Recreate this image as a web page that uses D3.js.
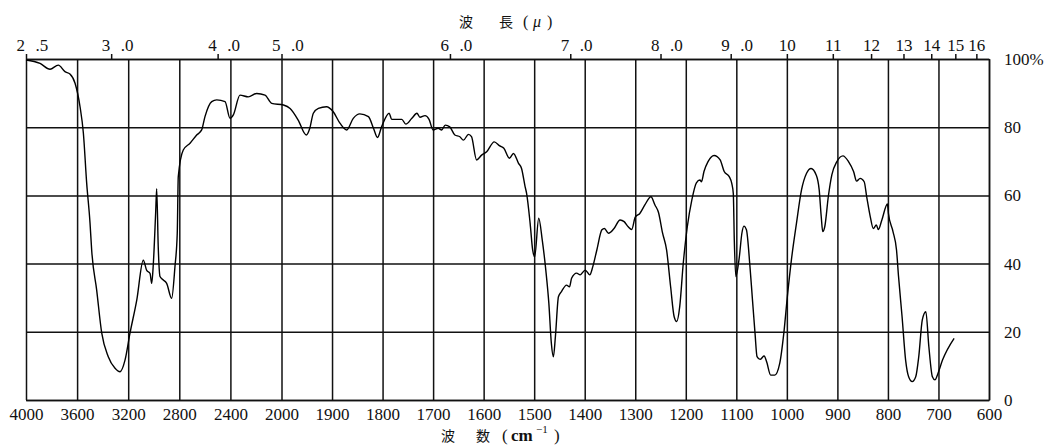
<!DOCTYPE html>
<html>
<head>
<meta charset="utf-8">
<script src="https://cdn.jsdelivr.net/npm/d3@7"></script>
<style>
  body { margin: 0; background: #fff; }
  svg { display: block; }
</style>
</head>
<body>
<div id="fig_ir"></div>
<script>
// tick values and labels
var wavenumberTicks = [4000, 3600, 3200, 2800, 2400, 2000, 1900, 1800, 1700, 1600, 1500, 1400, 1300, 1200, 1100, 1000, 900, 800, 700, 600];
var wavelengthTicks = [2.5, 3, 4, 5, 6, 7, 8, 9, 10, 11, 12, 13, 14, 15, 16];
var wavelengthLabels = ["2 .5", "3 .0", "4 .0", "5 .0", "6 .0", "7 .0", "8 .0", "9 .0", "10", "11", "12", "13", "14", "15", "16"];
var transmittanceTicks = [0, 20, 40, 60, 80, 100];

// spectrum (cm-1, %T)
var wavenumber = [4000, 3890, 3812, 3747, 3695, 3656, 3616, 3577, 3551, 3525, 3499, 3486, 3447, 3407, 3356, 3303, 3264, 3225, 3186, 3133,
  3082, 3055, 3029, 3016, 3003, 2985, 2977, 2965, 2951, 2925, 2899, 2860, 2834, 2816, 2808, 2769, 2716, 2664, 2625, 2599,
  2546, 2507, 2442, 2403, 2377, 2325, 2260, 2194, 2129, 2077, 1996, 1983, 1967, 1951, 1944, 1937, 1927, 1911, 1898, 1884,
  1871, 1858, 1845, 1828, 1818, 1810, 1802, 1787, 1782, 1772, 1762, 1754, 1742, 1732, 1726, 1716, 1708, 1700, 1690, 1683,
  1676, 1667, 1657, 1647, 1640, 1630, 1624, 1614, 1604, 1594, 1579, 1568, 1560, 1549, 1541, 1531, 1525, 1518, 1515, 1508,
  1503, 1499, 1491, 1484, 1477, 1471, 1466, 1462, 1458, 1452, 1446, 1436, 1430, 1426, 1416, 1409, 1399, 1390, 1384, 1376,
  1366, 1361, 1353, 1342, 1330, 1322, 1314, 1307, 1300, 1291, 1281, 1269, 1261, 1254, 1246, 1238, 1230, 1223, 1218, 1212,
  1205, 1197, 1188, 1179, 1172, 1169, 1164, 1156, 1144, 1132, 1124, 1114, 1109, 1106, 1104, 1101, 1094, 1089, 1085, 1080,
  1073, 1068, 1063, 1059, 1053, 1045, 1040, 1032, 1024, 1014, 1006, 999, 991, 981, 971, 961, 952, 942, 936, 932,
  929, 925, 918, 911, 901, 889, 878, 868, 862, 855, 847, 842, 835, 829, 823, 819, 812, 801, 799, 790,
  783, 779, 772, 765, 759, 752, 745, 739, 732, 725, 719, 712, 707, 701, 692, 669];
var transmittance = [99.7, 98.7, 97, 98.2, 96.3, 95.6, 92.9, 86, 78.3, 63.6, 52, 44, 32.3, 19.6, 12.7, 9.3, 8.3, 11.7, 19.6, 29.3,
  41, 38, 37.1, 34.2, 40.1, 55, 62, 45, 36.2, 35.2, 34.2, 29.8, 39.1, 48.9, 65.5, 73.3, 75.3, 77.7, 79.2, 83.1,
  87.5, 88, 87.5, 82.6, 83.6, 89.4, 88.9, 89.9, 89.4, 87, 86.5, 85.5, 82.1, 77.7, 79.7, 84.1, 85.5, 86, 84.6, 81.1,
  79.2, 82.6, 83.9, 83.1, 79.7, 77, 80.1, 84.1, 82.3, 82.3, 82.3, 80.9, 82.6, 84.1, 82.9, 83.4, 82.3, 79.2, 79.7, 79.2,
  80.6, 80.1, 77.7, 77.2, 76.2, 77.9, 77.2, 70.4, 71.8, 72.8, 75.7, 74.5, 73.8, 70.9, 72.3, 69.4, 67.9, 62.6, 60.6, 51.8,
  44, 42, 53.3, 46.9, 38.1, 28.4, 16.6, 12.7, 18.6, 30.3, 31.8, 33.7, 33.2, 35.7, 37.2, 36.7, 38.1, 36.7, 39.1, 44,
  49.9, 50.3, 48.9, 50.3, 52.8, 52.3, 50.8, 50, 53.6, 54.7, 57.2, 59.6, 57.2, 55, 49, 44, 33.2, 24.4, 23, 27.4,
  40.1, 50.8, 58.7, 63.7, 64.5, 64, 67, 69.9, 71.7, 70.4, 67, 65.5, 63.5, 60.6, 46.9, 36.2, 42, 48.9, 51, 49.9,
  39.1, 29.3, 19.6, 12.7, 11.9, 12.9, 11.2, 7.3, 7.3, 10.8, 19.6, 30.3, 41.1, 51.8, 61.6, 66.5, 67.9, 66, 61.6, 53.8,
  49.4, 50.8, 59.6, 66, 69.9, 71.6, 69.9, 67, 64.2, 65, 64, 59.6, 53.8, 50.3, 51.3, 50, 52.8, 57.5, 54.7, 49.4,
  44, 36.2, 24.4, 11.7, 6.8, 5.4, 6.8, 12.7, 23.5, 25.9, 15.6, 6.8, 5.9, 7.8, 11.7, 18.1];

var width = 1053, height = 445;
var plotLeft = 26, plotRight = 989, plotTop = 59, plotBottom = 400;
var serif = "'Liberation Serif', 'DejaVu Serif', serif";
var cjk = "'Noto Sans CJK JP', 'Noto Sans CJK SC', sans-serif";
var ink = "#111";

var svg = d3.select("#fig_ir")
  .append("svg")
  .attr("width", width)
  .attr("height", height);

// the chart paper has two linear sections: 4000-2000 squeezed, 2000-600 wide
var x = d3.scaleLinear()
  .domain([4000, 2000, 600])
  .range([plotLeft, 281.5, plotRight]);

var y = d3.scaleLinear()
  .domain([0, 100])
  .range([plotBottom, plotTop]);

// vertical grid + bottom labels
var xAxis = svg.append("g")
  .attr("transform", "translate(0," + plotBottom + ")")
  .call(d3.axisBottom(x)
    .tickValues(wavenumberTicks)
    .tickSize(-(plotBottom - plotTop))
    .tickSizeOuter(0)
    .tickPadding(8)
    .tickFormat(d3.format("d")));

// horizontal grid + right labels
var yAxis = svg.append("g")
  .attr("transform", "translate(" + plotRight + ",0)")
  .call(d3.axisRight(y)
    .tickValues(transmittanceTicks)
    .tickSize(-(plotRight - plotLeft))
    .tickSizeOuter(0)
    .tickPadding(15)
    .tickFormat(function(d) { return d === 100 ? "100%" : d; }));

// top wavelength scale (micron)
var topAxis = svg.append("g")
  .attr("transform", "translate(0," + plotTop + ")")
  .call(d3.axisTop(x)
    .tickValues(wavelengthTicks.map(function(w) { return 10000 / w; }))
    .tickSize(5)
    .tickSizeOuter(0)
    .tickFormat(""));

topAxis.selectAll(".tick").each(function(d, i) {
  var g = d3.select(this);
  var parts = wavelengthLabels[i].split(" ");
  if (parts.length === 2) {
    g.append("text").attr("x", -1.5).attr("y", -8).attr("text-anchor", "end").text(parts[0]);
    g.append("text").attr("x", 9).attr("y", -8).attr("text-anchor", "start").text(parts[1]);
  } else {
    g.append("text").attr("x", 0).attr("y", -8).attr("text-anchor", "middle").text(parts[0]);
  }
});

[xAxis, yAxis, topAxis].forEach(function(a) {
  a.selectAll("line, path").attr("stroke", ink).attr("stroke-width", 1.5);
  a.selectAll("text")
    .attr("fill", ink)
    .style("font-family", serif)
    .style("font-size", "17px");
});

// spectrum trace
var spectrum = wavenumber.map(function(w, i) { return [w, transmittance[i]]; });

var line = d3.line()
  .x(function(d) { return x(d[0]); })
  .y(function(d) { return y(d[1]); })
  .curve(d3.curveMonotoneX);

svg.append("path")
  .datum(spectrum)
  .attr("d", line)
  .attr("fill", "none")
  .attr("stroke", "#000")
  .attr("stroke-width", 1.4)
  .attr("stroke-linejoin", "round");

// axis titles
var topTitle = svg.append("text").attr("y", 27).attr("fill", ink);
topTitle.append("tspan").attr("x", 459).style("font-family", cjk).style("font-size", "14px").text("波");
topTitle.append("tspan").attr("x", 499).style("font-family", cjk).style("font-size", "14px").text("長");
topTitle.append("tspan").attr("x", 523).style("font-family", serif).style("font-size", "16px").text("(");
topTitle.append("tspan").attr("x", 533).style("font-family", serif).style("font-size", "16px").style("font-style", "italic").text("μ");
topTitle.append("tspan").attr("x", 547).style("font-family", serif).style("font-size", "16px").text(")");

var bottomTitle = svg.append("text").attr("y", 441).attr("fill", ink);
bottomTitle.append("tspan").attr("x", 441).style("font-family", cjk).style("font-size", "14px").text("波");
bottomTitle.append("tspan").attr("x", 476).style("font-family", cjk).style("font-size", "14px").text("数");
bottomTitle.append("tspan").attr("x", 502).style("font-family", serif).style("font-size", "17px").text("(");
bottomTitle.append("tspan").attr("x", 511).style("font-family", serif).style("font-size", "17px").style("font-weight", "bold").text("cm");
bottomTitle.append("tspan").attr("x", 536).attr("dy", -8).style("font-family", serif).style("font-size", "11px").text("−1");
bottomTitle.append("tspan").attr("x", 554).attr("dy", 8).style("font-family", serif).style("font-size", "17px").text(")");
</script>
</body>
</html>
